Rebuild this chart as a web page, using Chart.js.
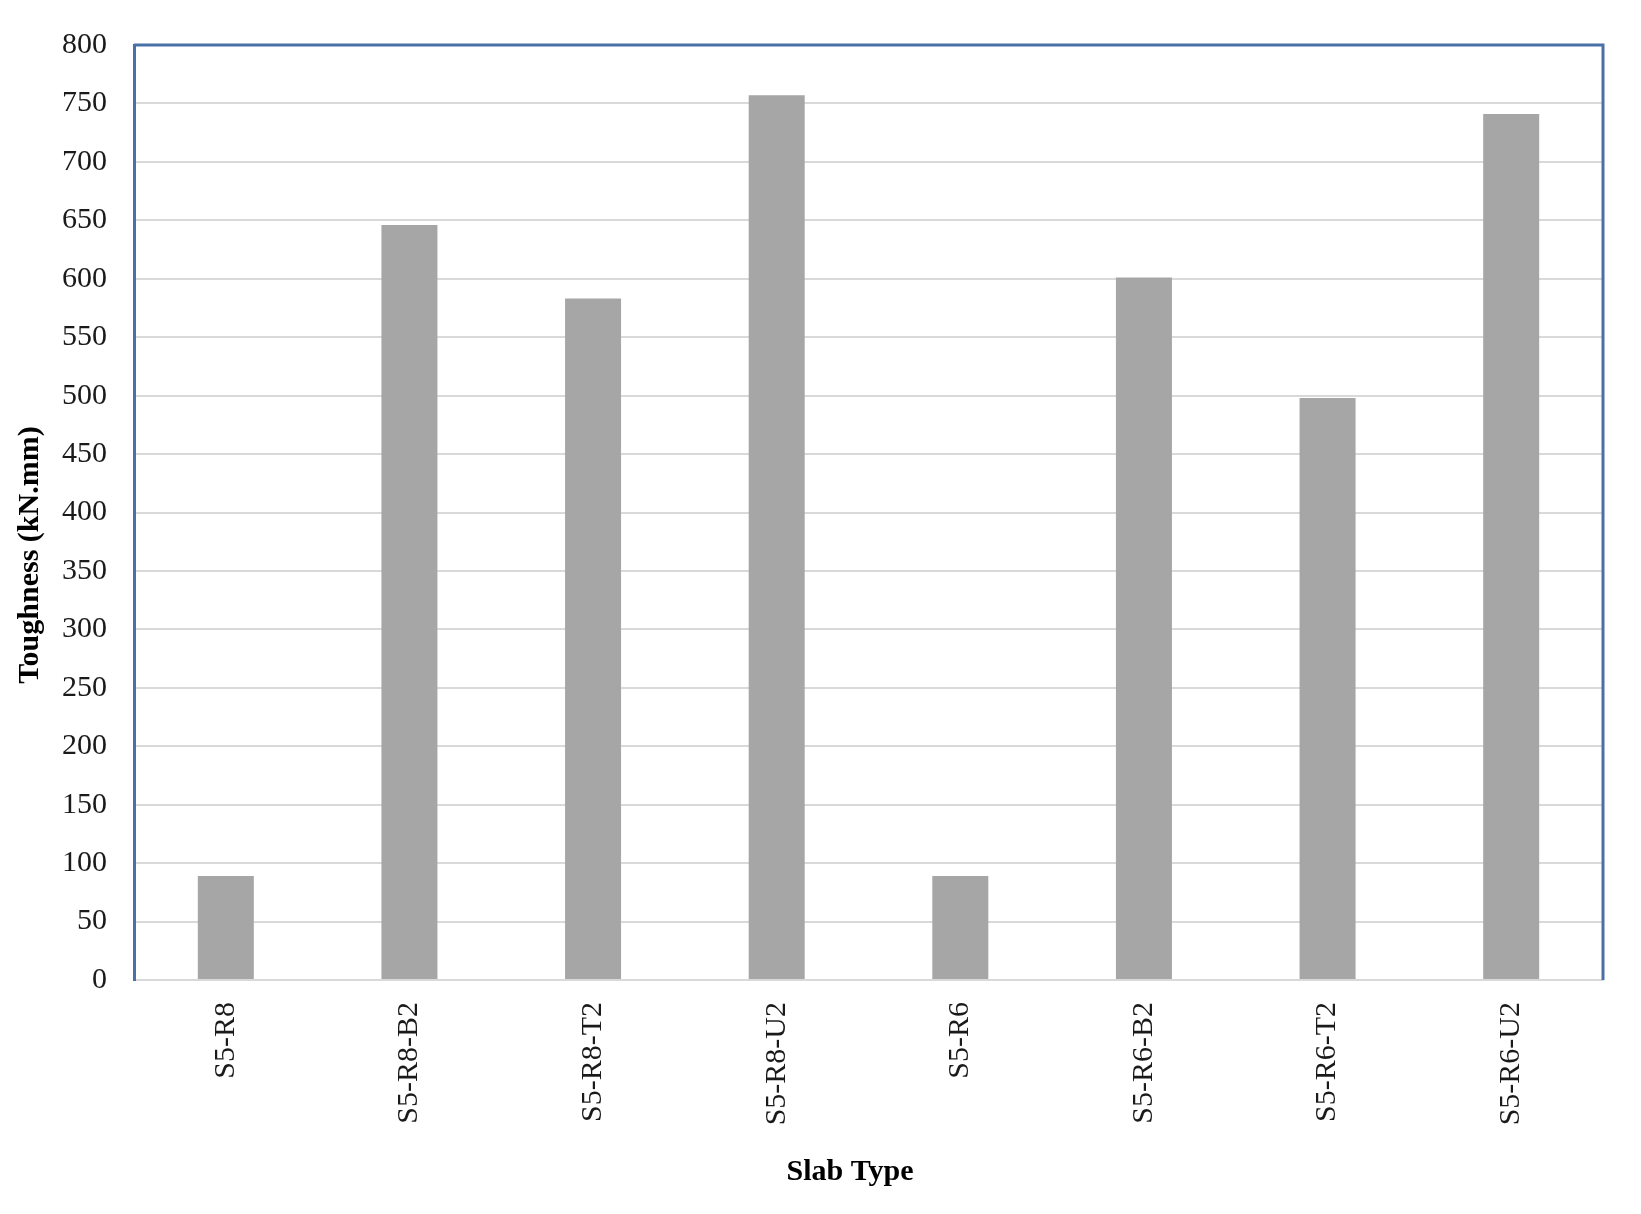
<!DOCTYPE html>
<html>
<head>
<meta charset="utf-8">
<script src="https://cdn.jsdelivr.net/npm/chart.js@4.4.1/dist/chart.umd.min.js"></script>
<style>
  body { margin: 0; background: #fff; }
  #wrap { width: 1641px; height: 1214px; position: relative; }
</style>
</head>
<body>
<div id="wrap"><canvas id="myChart"></canvas></div>
<script>
"use strict"
let slabTypes = ['S5-R8', 'S5-R8-B2', 'S5-R8-T2', 'S5-R8-U2', 'S5-R6', 'S5-R6-B2', 'S5-R6-T2', 'S5-R6-U2'];
let toughness = [89, 646, 583, 757, 89, 601, 498, 741];
let yTicks = [0, 50, 100, 150, 200, 250, 300, 350, 400, 450, 500, 550, 600, 650, 700, 750, 800];

const blue = '#4a70a8';
const serif = "'Liberation Serif', 'Times New Roman', serif";

// top and right edges of the plot frame + both axis titles
let framePlugin = {
    id: 'frame',
    afterDraw(chart) {
        let ctx = chart.ctx;
        let a = chart.chartArea;
        ctx.save();
        ctx.strokeStyle = blue;
        ctx.lineWidth = 3;
        ctx.beginPath();
        ctx.moveTo(a.left, a.top);
        ctx.lineTo(a.right, a.top);
        ctx.lineTo(a.right, a.bottom);
        ctx.stroke();

        ctx.fillStyle = '#000';
        ctx.font = 'bold 30px ' + serif;
        ctx.textAlign = 'center';
        ctx.textBaseline = 'middle';
        ctx.fillText('Slab Type', 850, 1172);

        ctx.translate(30, 555);
        ctx.rotate(-Math.PI / 2);
        ctx.fillText('Toughness (kN.mm)', 0, 0);
        ctx.restore();
    }
};

let ctx = document.getElementById('myChart').getContext('2d');
let myChart = new Chart(ctx, {
    type: 'bar',
    data: {
        labels: slabTypes,
        datasets: [{
            label: 'Toughness',
            data: toughness,
            backgroundColor: '#a6a6a6',
            borderWidth: 0,
            categoryPercentage: 1,
            barPercentage: 0.305
        }]
    },
    options: {
        responsive: true,
        maintainAspectRatio: false,
        animation: false,
        layout: { padding: { top: 43, right: 38, left: 0, bottom: 0 } },
        plugins: {
            legend: { display: false },
            tooltip: { enabled: false }
        },
        scales: {
            x: {
                grid: { display: false, drawTicks: false },
                border: { color: '#d9d9d9', width: 2 },
                ticks: {
                    color: '#1a1a1a',
                    font: { family: serif, size: 30 },
                    maxRotation: 90,
                    minRotation: 90,
                    padding: 22
                },
                afterFit(scale) { scale.height = 234; }
            },
            y: {
                min: 0,
                max: 800,
                afterBuildTicks(scale) { scale.ticks = yTicks.map(v => ({ value: v })); },
                grid: { color: '#d9d9d9', lineWidth: 2, drawTicks: false },
                border: { color: blue, width: 3 },
                ticks: {
                    color: '#1a1a1a',
                    font: { family: serif, size: 30 },
                    padding: 27
                },
                afterFit(scale) { scale.width = 134; }
            }
        }
    },
    plugins: [framePlugin]
});
</script>
</body>
</html>
